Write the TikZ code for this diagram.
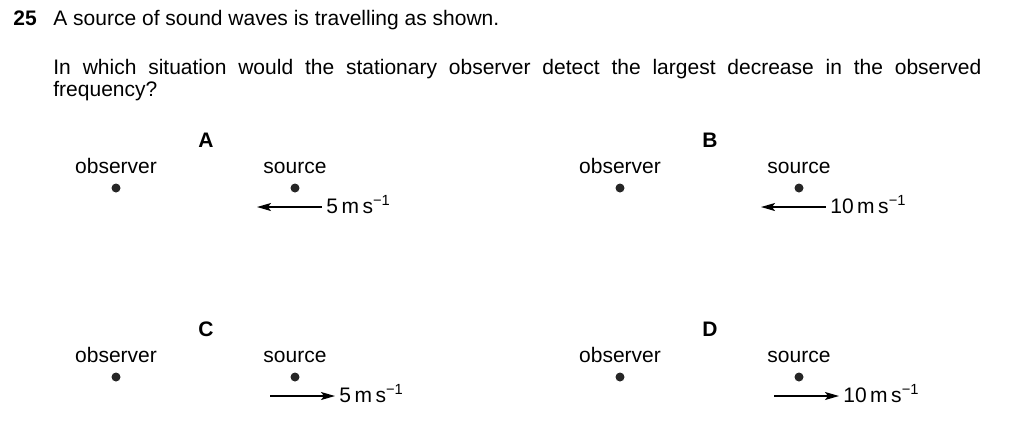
\documentclass[tikz,border=0pt]{standalone}
\usepackage{fontspec}
\setmainfont{Liberation Sans}
\usetikzlibrary{arrows.meta}
\begin{document}
\begin{tikzpicture}[x=0.5pt, y=-0.5pt,
    every node/.style={font=\fontsize{10.5}{11}\selectfont, text=black},
    word/.style={anchor=base, inner sep=0pt},
    letter/.style={anchor=base, inner sep=0pt, font=\fontsize{10.5}{11}\selectfont\bfseries},
    dot/.style={circle, fill=black!85, inner sep=0pt, minimum size=4.5pt},
    speed/.style={anchor=west, inner xsep=2pt, inner ysep=0pt, text height=6pt, text depth=0pt},
    move/.style={line width=0.75pt, >={Stealth[length=7pt, width=4pt, inset=1.5pt]}},
    tipleft/.style={<-},
    tipright/.style={->}]
    \useasboundingbox (0,0) rectangle (1024,420);
    % question
    \node[anchor=base west, inner sep=0pt, font=\fontsize{10.5}{11}\selectfont\bfseries] (num) at (13,25) {25};
    \node[anchor=base west, inner sep=0pt] (stem) at (53,25) {A source of sound waves is travelling as shown.};
    \node[anchor=base west, inner sep=0pt, text width=464pt, align=justify] (ask) at (53,74)
        {In which situation would the stationary observer detect the largest decrease in the observed\linebreak frequency?};
    % the four options
    \foreach \l/\dx/\dy/\v/\tx/\tips in {A/0/0/5/257/tipleft, B/504/0/10/257/tipleft,
                                          C/0/189/5/270/tipright, D/504/189/10/270/tipright}
    {
        \node[letter] (lbl\l) at (206+\dx,147+\dy) {\l};
        \node[word] (obs\l) at (116+\dx,173+\dy) {observer};
        \node[word] (src\l) at (295+\dx,173+\dy) {source};
        \node[dot] (od\l) at (116+\dx,188+\dy) {};
        \node[dot] (sd\l) at (295+\dx,188+\dy) {};
        \coordinate (t\l) at (\tx+\dx,207+\dy);
        \node[speed] (v\l) at (\tx+65+\dx,207+\dy) {\v\,m\,s\textsuperscript{−1}};
        \draw[move, \tips] (t\l) -- (v\l.west);
    }
\end{tikzpicture}
\end{document}
